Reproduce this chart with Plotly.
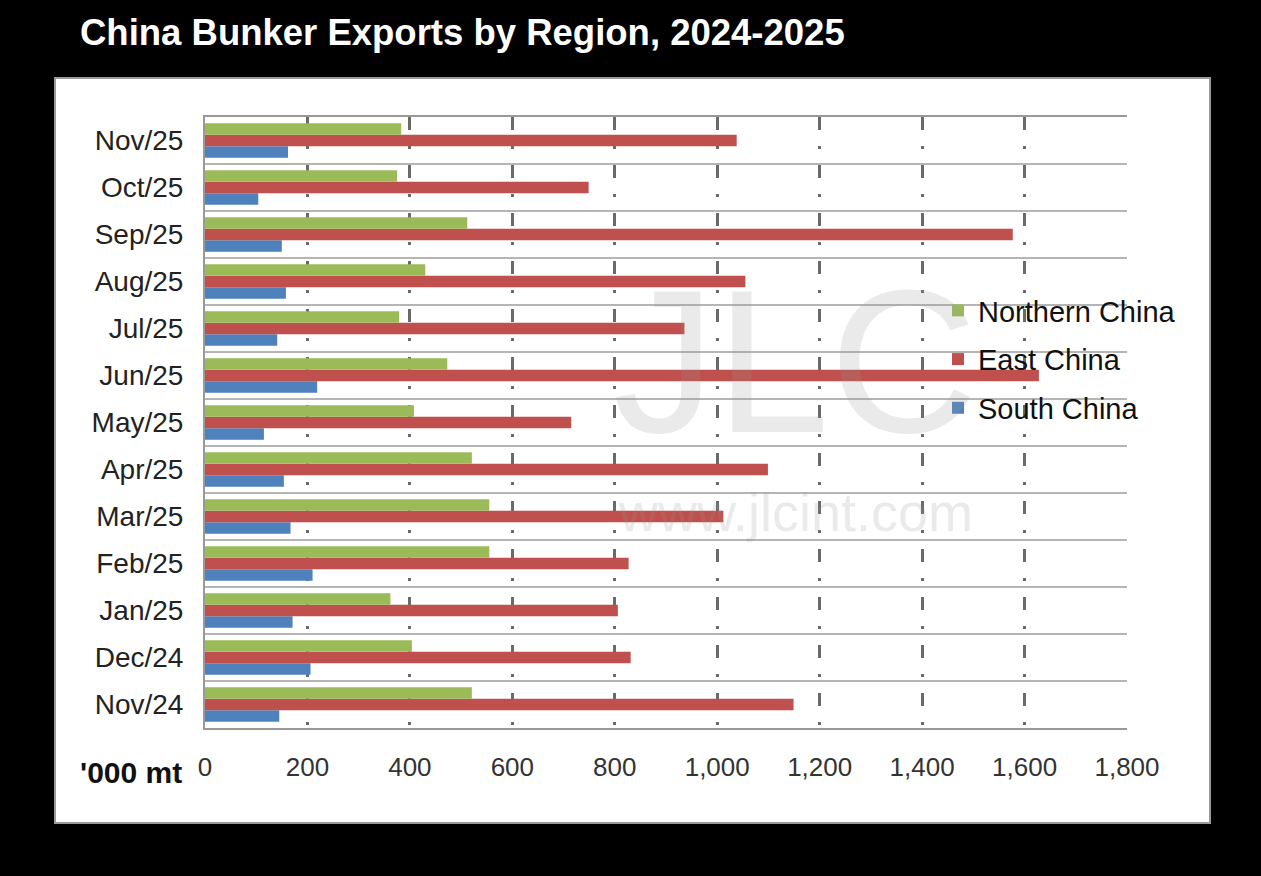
import plotly.graph_objects as go

months = ["Nov/24", "Dec/24", "Jan/25", "Feb/25", "Mar/25", "Apr/25", "May/25",
          "Jun/25", "Jul/25", "Aug/25", "Sep/25", "Oct/25", "Nov/25"]
northern = [521, 404, 362, 555, 555, 521, 408, 473, 379, 430, 512, 375, 383]
east = [1149, 831, 806, 827, 1012, 1099, 715, 1628, 936, 1055, 1577, 749, 1038]
south = [145, 206, 171, 210, 167, 154, 115, 219, 141, 158, 150, 104, 162]

series = [
    ("South China", south, "#4F81BD", 3),
    ("East China", east, "#C0504D", 2),
    ("Northern China", northern, "#9BBB59", 1),
]

FONT = "Liberation Sans, Arial, sans-serif"

fig = go.Figure()
for name, vals, col, rank in series:
    fig.add_trace(go.Bar(
        y=months, x=vals, name=name, orientation="h",
        marker=dict(color=col, line=dict(width=0)),
        legendgroup=name, legendrank=rank,
    ))

fig.update_layout(
    width=1261, height=876,
    paper_bgcolor="black",
    plot_bgcolor="white",
    barmode="group",
    bargap=0.27,
    bargroupgap=0,
    margin=dict(l=205, r=134, t=117, b=148, autoexpand=False),
    title=dict(
        text="<b>China Bunker Exports by Region, 2024-2025</b>",
        font=dict(family=FONT, size=36.5, color="white"),
        x=80 / 1261, xanchor="left", xref="container",
        y=1 - 32 / 876, yanchor="middle", yref="container",
    ),
    legend=dict(
        x=0.795, y=0.725, xanchor="left", yanchor="top",
        bgcolor="rgba(0,0,0,0)",
        font=dict(family=FONT, size=29, color="#111"),
        traceorder="grouped",
        tracegroupgap=8,
    ),
    font=dict(family=FONT),
    showlegend=True,
)

fig.update_xaxes(
    range=[0, 1800], dtick=200, tickformat=",",
    showgrid=True, gridcolor="#6a6a6a", gridwidth=2.5,
    griddash="13px,16px,3px,16px",
    showline=True, linecolor="#999", linewidth=2, mirror=True,
    ticks="", zeroline=False,
    tickfont=dict(family=FONT, size=26, color="#333"),
    ticklabelstandoff=15,
)
fig.update_yaxes(
    type="category", tickson="boundaries",
    showgrid=True, gridcolor="#b5b5b5", gridwidth=1.5,
    showline=True, linecolor="#999", linewidth=2,
    ticks="",
    tickfont=dict(family=FONT, size=28, color="#222"),
    ticklabelstandoff=14,
)

# white panel behind the chart
fig.add_shape(type="rect", xref="paper", yref="paper", layer="below",
              x0=(55 - 205) / 922, x1=(1210 - 205) / 922,
              y0=(728 - 823) / 611, y1=(728 - 78) / 611,
              fillcolor="white", line=dict(color="#9a9a9a", width=2))

# watermark
fig.add_annotation(text="JLC", xref="paper", yref="paper",
                   x=(795 - 205) / 922, y=(728 - 360) / 611,
                   showarrow=False,
                   font=dict(family=FONT, size=205, color="rgba(150,150,150,0.2)"))
fig.add_annotation(text="www.jlcint.com", xref="paper", yref="paper",
                   x=(795 - 205) / 922, y=(728 - 512) / 611,
                   showarrow=False,
                   font=dict(family=FONT, size=54, color="rgba(150,150,150,0.2)"))

# unit label
fig.add_annotation(text="<b>'000 mt</b>", xref="paper", yref="paper",
                   x=(184 - 205) / 922, y=(728 - 772) / 611,
                   xanchor="right", yanchor="middle", showarrow=False,
                   font=dict(family=FONT, size=30, color="#111"))

fig.write_html("out.html")
